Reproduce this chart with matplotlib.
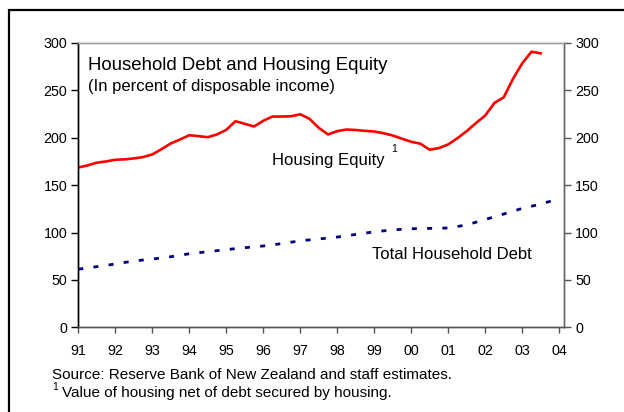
# -*- coding: utf-8 -*-
import numpy as np
import matplotlib
matplotlib.use('Agg')
import matplotlib.pyplot as plt
from matplotlib.lines import Line2D
from matplotlib import rc
rc('font', **{'family': 'sans-serif', 'sans-serif': ['Liberation Sans', 'DejaVu Sans'], 'size': 10})
rc('lines', scale_dashes=False)

# Housing equity, quarterly from 1991Q1 (percent of disposable income)
equity = [168.6, 170.8, 173.7, 175.0, 176.8, 177.2, 178.2, 179.6, 182.4, 188.0,
          194.0, 198.2, 202.7, 201.7, 200.6, 203.5, 208.4, 217.5, 214.7, 211.9,
          217.9, 222.4, 222.4, 222.7, 224.8, 220.0, 210.5, 203.5, 207.0, 208.7,
          208.2, 207.3, 206.6, 204.8, 202.4, 199.0, 195.8, 193.7, 187.4, 189.1,
          193.0, 199.6, 207.0, 215.5, 223.5, 236.8, 242.7, 262.1, 278.5, 290.8,
          289.1]
equity_years = 1991 + np.arange(len(equity)) * 0.25

# Total household debt, half-yearly from 1991
debt = [61.3, 64.0, 66.8, 70.0, 72.0, 74.5, 77.6, 79.8, 82.0, 84.0,
        85.8, 88.3, 91.3, 93.2, 95.2, 98.0, 100.7, 102.8, 104.0, 104.4,
        104.8, 108.0, 113.8, 119.5, 125.5, 130.0, 135.8]
debt_years = 1991 + np.arange(len(debt)) * 0.5

xticks = np.arange(1991, 2005)
xlabels = ['91', '92', '93', '94', '95', '96', '97', '98', '99', '00', '01', '02', '03', '04']
yticks = [0, 50, 100, 150, 200, 250, 300]

W, H = 624, 412
fig = plt.figure(figsize=(W / 100, H / 100), dpi=100)
ax = fig.add_axes([78.3 / W, 1 - 327.3 / H, (564 - 78.3) / W, (327.3 - 43) / H])

ax.plot(equity_years, equity, color='#ff0000', lw=1.9, solid_joinstyle='round')
ax.plot(debt_years, debt, color='#000080', lw=2.0, dashes=(3.6, 7.4), dash_capstyle='butt')

ax.set_xlim(1991, 2004.13)
ax.set_ylim(0, 300)
ax.set_xticks(xticks)
ax.set_xticklabels(xlabels)
ax.set_yticks(yticks)
ax.tick_params(axis='x', direction='out', length=4, width=1, pad=8, colors='#555555', labelcolor='black', labelsize=10.3)
ax.tick_params(axis='y', direction='out', length=5, width=1, pad=3, labelsize=10.3)

ax2 = ax.twinx()
ax2.set_ylim(0, 300)
ax2.set_yticks(yticks)
ax2.tick_params(axis='y', direction='out', length=5, width=1, pad=3, colors='#555555', labelcolor='black', labelsize=10.3)

for a in (ax, ax2):
    a.spines['left'].set_color('black')
    a.spines['bottom'].set_color('#555555')
    a.spines['right'].set_color('#666666')
    a.spines['top'].set_color('#a0a0a0')
    for s in a.spines.values():
        s.set_linewidth(1.0)

ax.text(1991.27, 276.7, 'Household Debt and Housing Equity', fontsize=13.4, va='center', ha='left')
ax.text(1991.27, 253.8, '(In percent of disposable income)', fontsize=12, va='center', ha='left')
ax.text(1996.24, 176.5, 'Housing Equity', fontsize=12, va='center', ha='left')
ax.text(1999.45, 188.5, '1', fontsize=7.5, va='center', ha='left')
ax.text(1998.95, 77.3, 'Total Household Debt', fontsize=12, va='center', ha='left')

fig.text(51.7 / W, 1 - 375 / H, 'Source: Reserve Bank of New Zealand and staff estimates.', fontsize=11, va='center', ha='left')
fig.text(52.5 / W, 1 - 386.5 / H, '1', fontsize=7.5, va='center', ha='left')
fig.text(61.7 / W, 1 - 393.5 / H, 'Value of housing net of debt secured by housing.', fontsize=11, va='center', ha='left')

# outer frame (only left and top edges fall inside the image)
fig.add_artist(Line2D([8.5 / W, 8.5 / W, 1.01], [-0.01, 1 - 10 / H, 1 - 10 / H], color='black', lw=1.6,
                      transform=fig.transFigure, solid_joinstyle='miter'))

fig.savefig('out.png', dpi=100)
